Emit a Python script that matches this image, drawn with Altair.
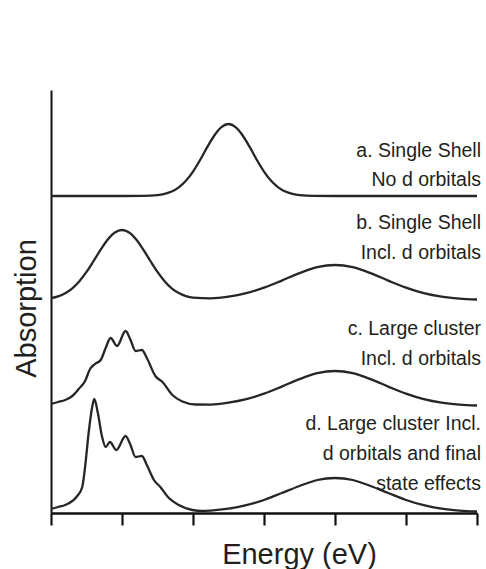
import altair as alt
import pandas as pd

# ---- data (energy in arbitrary units 0..6, absorption in arb. units) ----
series_names = ["a", "b", "c", "d"]
offsets = [317, 213, 107, 1]

a_x = [0, 0.5, 1.0, 1.3, 1.5, 1.6, 1.7, 1.8, 1.9, 2.0, 2.1, 2.2, 2.3, 2.4, 2.5, 2.6, 2.7,
       2.8, 2.9, 3.0, 3.1, 3.2, 3.3, 3.4, 3.5, 3.7, 4.0, 4.5, 5.0, 5.5, 6.0]
a_y = [0, 0, 0, 0.1, 0.9, 2.2, 4.5, 8.7, 15.2, 24.4, 36, 48.8, 60.5, 68.9, 72, 68.9, 60.5,
       48.8, 36, 24.4, 15.2, 8.7, 4.5, 2.2, 0.9, 0.1, 0, 0, 0, 0, 0]

b_x = [0, 0.1, 0.2, 0.3, 0.4, 0.5, 0.6, 0.7, 0.8, 0.9, 1.0, 1.1, 1.2, 1.3, 1.4, 1.5, 1.6,
       1.7, 1.8, 1.9, 2.0, 2.25, 2.5, 2.75, 3.0, 3.25, 3.5, 3.75, 4.0, 4.25, 4.5, 4.75, 5.0,
       5.25, 5.5, 5.75, 6.0]
b_y = [1.8, 3.6, 6.8, 11.7, 18.8, 28.1, 39, 50.4, 60.5, 67.5, 70, 67.5, 60.5, 50.4, 39, 28.1,
       18.8, 11.7, 6.9, 3.9, 2.3, 1.6, 3.3, 6.8, 12.3, 19.4, 26.9, 32.8, 35, 32.8, 26.9, 19.4,
       12.3, 6.8, 3.3, 1.4, 0.5]

c_x = [0, 0.1, 0.2, 0.3, 0.39, 0.48, 0.55, 0.62, 0.70, 0.77, 0.84, 0.93, 1.05, 1.12, 1.19,
       1.28, 1.35, 1.47, 1.57, 1.71, 1.85, 2.04, 2.25, 2.5, 2.75, 3.0, 3.25, 3.5, 3.75, 4.0,
       4.25, 4.5, 4.75, 5.0, 5.25, 5.5, 5.75, 6.0]
c_y = [2, 4, 6, 10, 17, 25, 37, 42, 46, 58, 68, 60, 75, 66, 55, 56, 48, 30, 24, 11, 4.5, 1.5,
       1.4, 3.3, 6.8, 12.3, 19.4, 26.9, 32.8, 35, 32.8, 26.9, 19.4, 12.3, 6.8, 3.3, 1.4, 0.5]

d_x = [0, 0.1, 0.2, 0.3, 0.37, 0.44, 0.48, 0.53, 0.58, 0.61, 0.66, 0.72, 0.77, 0.83, 0.92,
       1.05, 1.12, 1.19, 1.28, 1.35, 1.45, 1.54, 1.66, 1.80, 1.99, 2.13, 2.25, 2.5, 2.75, 3.0,
       3.25, 3.5, 3.75, 4.0, 4.25, 4.5, 4.75, 5.0, 5.25, 5.5, 5.75, 6.0]
d_y = [3, 5, 7, 11, 16, 25, 45, 79, 105, 113, 99, 75, 65, 70, 62, 76, 67, 55, 56, 47, 32, 25,
       14, 7, 2, 1, 1.4, 3.3, 6.8, 12, 19, 26, 32, 34, 32, 26, 19, 12, 6.8, 3.3, 1.4, 0.5]

label_texts = ["a. Single Shell", "No d orbitals",
               "b. Single Shell", "Incl. d orbitals",
               "c. Large cluster", "Incl. d orbitals",
               "d. Large cluster Incl.", "d orbitals and final", "state effects"]
label_y = [356, 327, 284, 254, 178, 148, 83, 53, 23]

x_ticks = [0, 1, 2, 3, 4, 5, 6]

# ---- build tables ----
rows = []
for name, off, xs, ys in zip(series_names, offsets, [a_x, b_x, c_x, d_x], [a_y, b_y, c_y, d_y]):
    for i, (xv, yv) in enumerate(zip(xs, ys)):
        rows.append({"series": name, "order": i, "energy": xv, "absorption": off + yv})
df = pd.DataFrame(rows)
labels = pd.DataFrame({"text": label_texts, "y": label_y, "x": [6] * len(label_texts)})

FONT = "Liberation Sans"
INK = "#231f20"

xscale = alt.Scale(domain=[0, 6], nice=False, zero=False)
yscale = alt.Scale(domain=[0, 423], nice=False, zero=False)

lines = alt.Chart(df).mark_line(
    interpolate="monotone", color="#262626", strokeWidth=2.3
).encode(
    x=alt.X("energy:Q", scale=xscale,
            axis=alt.Axis(values=x_ticks, labels=False, grid=False, ticks=True,
                          tickSize=12, tickWidth=2.2, tickColor="#111", domainColor="#111",
                          domainWidth=2.6, title="Energy (eV)", titleFont=FONT,
                          titleFontSize=29, titleFontWeight="normal", titleColor=INK,
                          titleX=248, titleY=50, titleAlign="center",
                          titleBaseline="alphabetic")),
    y=alt.Y("absorption:Q", scale=yscale,
            axis=alt.Axis(labels=False, ticks=False, grid=False, domainColor="#111",
                          domainWidth=2, title="Absorption", titleFont=FONT,
                          titleFontSize=29, titleFontWeight="normal", titleColor=INK,
                          titleAngle=270, titleX=-16, titleY=218, titleAlign="center",
                          titleBaseline="alphabetic")),
    detail="series:N",
    order="order:Q",
)

texts = alt.Chart(labels).mark_text(
    align="right", baseline="alphabetic", dx=4, font=FONT, fontSize=19.5, color=INK
).encode(
    x=alt.X("x:Q", scale=xscale),
    y=alt.Y("y:Q", scale=yscale),
    text="text:N",
)

chart = alt.layer(lines, texts).properties(
    width=426, height=423,
    autosize=alt.AutoSizeParams(type="none"),
    padding={"left": 51, "top": 90, "right": 9, "bottom": 56},
    background="white",
).configure_view(stroke=None)

chart.save("out.html", embed_options={"renderer": "svg", "actions": False})
